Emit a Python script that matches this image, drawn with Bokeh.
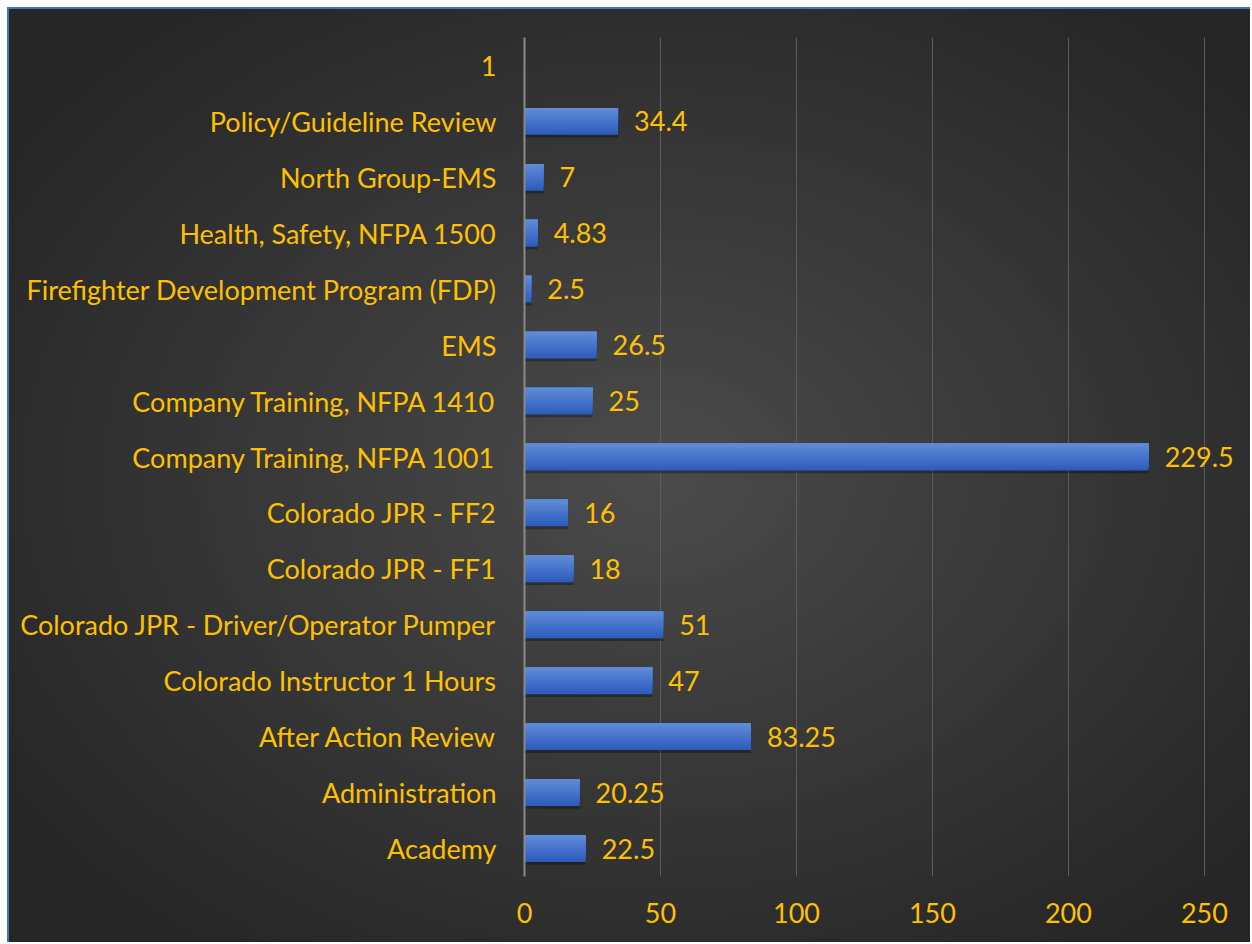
from bokeh.plotting import figure
from bokeh.models import ColumnDataSource, FixedTicker, Range1d
from bokeh.transform import dodge
from bokeh.embed import file_html
from bokeh.resources import INLINE
from bokeh.core.properties import value

categories = ["Academy", "Administration", "After Action Review", "Colorado Instructor 1 Hours",
              "Colorado JPR - Driver/Operator Pumper", "Colorado JPR - FF1", "Colorado JPR - FF2",
              "Company Training, NFPA 1001", "Company Training, NFPA 1410", "EMS",
              "Firefighter Development Program (FDP)", "Health, Safety, NFPA 1500",
              "North Group-EMS", "Policy/Guideline Review", "1"]
values = [22.5, 20.25, 83.25, 47, 51, 18, 16, 229.5, 25, 26.5, 2.5, 4.83, 7, 34.4, None]
value_labels = ["22.5", "20.25", "83.25", "47", "51", "18", "16", "229.5", "25", "26.5",
                "2.5", "4.83", "7", "34.4", ""]
x_ticks = [0, 50, 100, 150, 200, 250]

FONT = "Lato"
GOLD = "#FFC000"
FS = "27px"

cats_b = [c for c, v in zip(categories, values) if v is not None]
vals_b = [v for v in values if v is not None]
labs_b = [l for l, v in zip(value_labels, values) if v is not None]
src = ColumnDataSource(dict(cat=cats_b, val=vals_b, lab=labs_b))

p = figure(width=1243, height=935, y_range=categories, x_range=Range1d(0, 264),
           output_backend="svg", toolbar_location=None,
           min_border_left=515, min_border_right=10, min_border_top=28, min_border_bottom=68)
p.styles = {"margin-left": "7px", "margin-top": "7px",
            "border-left": "2px solid #4472C4", "border-top": "2px solid #4472C4",
            "background": "radial-gradient(ellipse 62% 62% at 52% 50%, #4b4b4b 0%, #3a3a3a 45%, #262626 100%)"}
p.background_fill_color = None
p.border_fill_color = None
p.outline_line_color = None

H = 0.48
# shadow
p.hbar(y=dodge("cat", -0.05, range=p.y_range), left=0, right="val", height=H, source=src,
       fill_color="black", fill_alpha=0.3, line_color=None)
# vertical gradient: stacked bars anchored at the top edge
n = 10
top_c = (0x5F, 0x8A, 0xD8)
bot_c = (0x2E, 0x5D, 0xBD)
for i in range(n):
    t = i / (n - 1)
    col = "#%02x%02x%02x" % tuple(int(round(bot_c[k] + (top_c[k] - bot_c[k]) * t)) for k in range(3))
    h = H * (1 - i / n)
    off = H / 2 - h / 2
    p.hbar(y=dodge("cat", off, range=p.y_range), left=0, right="val", height=h,
           source=src, fill_color=col, line_color=None)

p.text(x="val", y="cat", text="lab", source=src, x_offset=16, text_baseline="middle",
       text_align="left", text_color=GOLD, text_font=value(FONT), text_font_size=FS)

p.xaxis.ticker = FixedTicker(ticks=x_ticks)
p.xgrid.ticker = FixedTicker(ticks=x_ticks)
p.xgrid.grid_line_color = "#5c5c5c"
p.xgrid.grid_line_width = 1
p.ygrid.grid_line_color = None

for ax in (p.xaxis, p.yaxis):
    ax.major_label_text_color = GOLD
    ax.major_label_text_font = FONT
    ax.major_label_text_font_size = FS
    ax.major_tick_line_color = None
    ax.minor_tick_line_color = None
p.xaxis.axis_line_color = None
p.xaxis.major_label_standoff = 20
p.yaxis.axis_line_color = "#8a8a8a"
p.yaxis.axis_line_width = 2
p.yaxis.major_label_standoff = 22

open("out.html", "w").write(file_html(p, INLINE))
